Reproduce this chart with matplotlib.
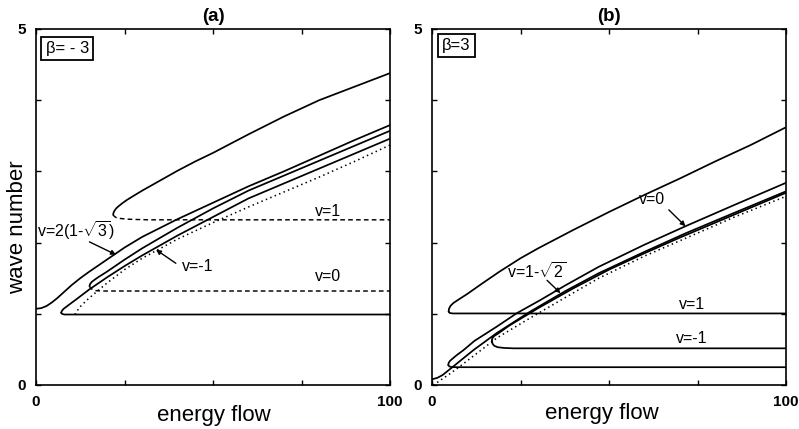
import matplotlib
matplotlib.use("Agg")
import matplotlib.pyplot as plt

plt.rcParams['font.family'] = ['Liberation Sans', 'DejaVu Sans']
plt.rcParams['mathtext.fontset'] = 'custom'
plt.rcParams['mathtext.rm'] = 'Liberation Sans'
plt.rcParams['mathtext.it'] = 'Liberation Sans'
plt.rcParams['mathtext.bf'] = 'Liberation Sans:bold'

# ---------------- panel (a): beta = -3 ----------------
a_v1_up_x = [21.8, 21.9, 22.2, 22.65, 23.3, 24.3, 25.7, 28, 30, 35, 40, 45, 50, 60, 70, 80, 90, 100]
a_v1_up_y = [2.39, 2.42, 2.45, 2.48, 2.51, 2.55, 2.60, 2.67, 2.73, 2.87, 3.01, 3.14, 3.26, 3.52, 3.77, 4.00, 4.19, 4.38]
a_v1_lo_x = [21.8, 22.1, 22.7, 23.7, 25.5, 28, 32, 100]
a_v1_lo_y = [2.39, 2.37, 2.35, 2.34, 2.33, 2.325, 2.32, 2.32]

a_vs_x = [0, 1.5, 3, 4.5, 6, 8, 10, 12.5, 15, 20, 25, 30, 40, 50, 60, 70, 80, 90, 100]
a_vs_y = [1.07, 1.08, 1.11, 1.16, 1.22, 1.31, 1.40, 1.50, 1.59, 1.76, 1.93, 2.08, 2.33, 2.56, 2.79, 3.00, 3.22, 3.44, 3.65]

a_v0_up_x = [15.1, 15.3, 15.8, 16.6, 17.6, 20, 25, 30, 40, 50, 60, 70, 80, 90, 100]
a_v0_up_y = [1.39, 1.42, 1.45, 1.48, 1.515, 1.59, 1.76, 1.92, 2.21, 2.48, 2.73, 2.94, 3.15, 3.36, 3.57]
a_v0_lo_x = [15.1, 15.4, 16.0, 17.0, 18.5, 100]
a_v0_lo_y = [1.39, 1.36, 1.34, 1.325, 1.32, 1.32]

a_vm1_up_x = [7.1, 7.3, 7.8, 8.6, 9.8, 11.3, 15, 20, 25, 30, 40, 50, 60, 70, 80, 90, 100]
a_vm1_up_y = [1.015, 1.04, 1.07, 1.10, 1.145, 1.20, 1.34, 1.51, 1.67, 1.82, 2.10, 2.36, 2.62, 2.83, 3.04, 3.25, 3.46]
a_vm1_lo_x = [7.1, 7.4, 8.0, 9.0, 100]
a_vm1_lo_y = [1.015, 0.998, 0.99, 0.99, 0.99]

a_dot_x = [11, 11.6, 12.5, 13.5, 15, 20, 25, 30, 40, 50, 60, 70, 80, 90, 100]
a_dot_y = [0.99, 1.04, 1.10, 1.15, 1.22, 1.43, 1.62, 1.78, 2.05, 2.28, 2.50, 2.71, 2.92, 3.14, 3.37]

# ---------------- panel (b): beta = 3 ----------------
b_v1_up_x = [4.7, 4.8, 5.2, 6.0, 7.5, 10, 14, 19, 25, 30, 40, 50, 60, 70, 80, 90, 100]
b_v1_up_y = [1.03, 1.07, 1.11, 1.15, 1.20, 1.28, 1.42, 1.59, 1.78, 1.92, 2.18, 2.43, 2.67, 2.90, 3.14, 3.37, 3.62]
b_v1_lo_x = [4.7, 5.0, 5.8, 7.0, 100]
b_v1_lo_y = [1.03, 1.012, 1.005, 1.005, 1.005]

b_v0_up_x = [4.6, 4.7, 5.1, 5.8, 7.0, 8.9, 12, 18.3, 24, 30.5, 37.7, 47.1, 60, 71.6, 85, 100]
b_v0_up_y = [0.28, 0.31, 0.34, 0.37, 0.42, 0.49, 0.62, 0.82, 1.01, 1.19, 1.40, 1.66, 1.97, 2.23, 2.52, 2.84]
b_v0_lo_x = [4.6, 4.9, 5.6, 7.0, 100]
b_v0_lo_y = [0.28, 0.26, 0.252, 0.25, 0.25]

b_vs_x = [0, 1.5, 3, 4.5, 6, 11.7, 18.3, 27.7, 37.7, 47.1, 60, 71.6, 85, 100]
b_vs_y = [0.08, 0.10, 0.14, 0.20, 0.26, 0.49, 0.73, 1.03, 1.32, 1.57, 1.87, 2.13, 2.41, 2.72]

b_vm1_up_x = [16.9, 17.1, 17.6, 18.6, 20, 22, 27.7, 30, 40, 50, 60, 70, 80, 90, 100]
b_vm1_up_y = [0.63, 0.66, 0.69, 0.72, 0.77, 0.84, 1.01, 1.08, 1.36, 1.62, 1.85, 2.07, 2.28, 2.49, 2.70]
b_vm1_lo_x = [16.9, 17.1, 17.6, 18.6, 20.5, 23, 100]
b_vm1_lo_y = [0.63, 0.58, 0.55, 0.53, 0.52, 0.515, 0.515]

b_dot_x = [0.3, 1.3, 5.1, 8.9, 18.3, 27.7, 37.7, 47.1, 60, 71.6, 85, 100]
b_dot_y = [0.0, 0.03, 0.16, 0.30, 0.66, 0.94, 1.23, 1.50, 1.81, 2.06, 2.35, 2.65]

x_ticks = [0, 25, 50, 75, 100]
x_ticklabels = ['0', '', '', '', '100']
y_ticks = [0, 1, 2, 3, 4, 5]
y_ticklabels = ['0', '', '', '', '', '5']

W, H = 799, 429
fig = plt.figure(figsize=(W / 100, H / 100), dpi=100)

def px_axes(left, top, right, bottom):
    return fig.add_axes([left / W, 1 - bottom / H, (right - left) / W, (bottom - top) / H])

axA = px_axes(36, 29, 390, 385)
axB = px_axes(432, 29, 786, 385)

LW = 1.25
solid = dict(color='black', lw=LW, solid_capstyle='round', solid_joinstyle='round')
dashed = dict(color='black', lw=1.05, linestyle=(0, (3.2, 2.2)))
dotted = dict(color='black', lw=1.15, linestyle=(0, (0.9, 2.1)))

for ax in (axA, axB):
    ax.set_xlim(0, 100)
    ax.set_ylim(0, 5)
    ax.set_xticks(x_ticks)
    ax.set_xticklabels(x_ticklabels, fontweight='bold')
    ax.set_yticks(y_ticks)
    ax.set_yticklabels(y_ticklabels, fontweight='bold')
    ax.tick_params(direction='in', length=3.5, width=1.0, top=True, right=True,
                   labelsize=11, pad=7)
    for s in ax.spines.values():
        s.set_linewidth(1.2)

# panel a curves
axA.plot(a_v1_up_x, a_v1_up_y, **solid)
axA.plot(a_v1_lo_x, a_v1_lo_y, **dashed)
axA.plot(a_vs_x, a_vs_y, **solid)
axA.plot(a_v0_up_x, a_v0_up_y, **solid)
axA.plot(a_v0_lo_x, a_v0_lo_y, **dashed)
axA.plot(a_vm1_up_x, a_vm1_up_y, **solid)
axA.plot(a_vm1_lo_x, a_vm1_lo_y, **solid)
axA.plot(a_dot_x, a_dot_y, **dotted)

# panel b curves
axB.plot(b_v1_up_x, b_v1_up_y, **solid)
axB.plot(b_v1_lo_x, b_v1_lo_y, **solid)
axB.plot(b_v0_up_x, b_v0_up_y, **solid)
axB.plot(b_v0_lo_x, b_v0_lo_y, **solid)
axB.plot(b_vs_x, b_vs_y, **solid)
axB.plot(b_vm1_up_x, b_vm1_up_y, **solid)
axB.plot(b_vm1_lo_x, b_vm1_lo_y, **solid)
axB.plot(b_dot_x, b_dot_y, **dotted)

lab = dict(fontsize=11.5, ha='center', va='center')
arr = dict(arrowstyle='-|>', color='black', lw=1.0, mutation_scale=7,
           shrinkA=0, shrinkB=0)

axA.text(82.6, 2.44, 'v=1', **lab)
axA.text(82.6, 1.52, 'v=0', **lab)
axA.text(0.4, 2.17, r'v=2(1-$\sqrt{3}$)', fontsize=11.5, ha='left', va='center')
axA.annotate('', xy=(22.6, 1.83), xytext=(15.1, 2.01), arrowprops=arr)
axA.text(45.7, 1.67, 'v=-1', **lab)
axA.annotate('', xy=(33.9, 1.90), xytext=(39.5, 1.71), arrowprops=arr)

axB.text(62.1, 2.60, 'v=0', **lab)
axB.annotate('', xy=(71.6, 2.23), xytext=(66.9, 2.46), arrowprops=arr)
axB.text(29.7, 1.59, r'v=1-$\sqrt{2}$', **lab)
axB.annotate('', xy=(36.3, 1.29), xytext=(32.5, 1.47), arrowprops=arr)
axB.text(73.4, 1.13, 'v=1', **lab)
axB.text(73.4, 0.655, 'v=-1', **lab)

box = dict(boxstyle='square,pad=0.25', fc='white', ec='black', lw=1.3)
axA.text(0.027, 0.946, 'β= - 3', transform=axA.transAxes, fontsize=12,
         ha='left', va='center', bbox=box)
axB.text(0.029, 0.953, 'β=3', transform=axB.transAxes, fontsize=12,
         ha='left', va='center', bbox=box)

axA.set_title('(a)', fontsize=13.5, fontweight='bold', pad=6)
axB.set_title('(b)', fontsize=13.5, fontweight='bold', pad=6)

fig.text(17.5 / W, 1 - 227 / H, 'wave number', rotation=90, fontsize=16,
         ha='center', va='center')
fig.text(213.5 / W, 1 - 415 / H, 'energy flow', fontsize=16, ha='center', va='center')
fig.text(602 / W, 1 - 413 / H, 'energy flow', fontsize=16, ha='center', va='center')

fig.savefig('out.png', dpi=100)
